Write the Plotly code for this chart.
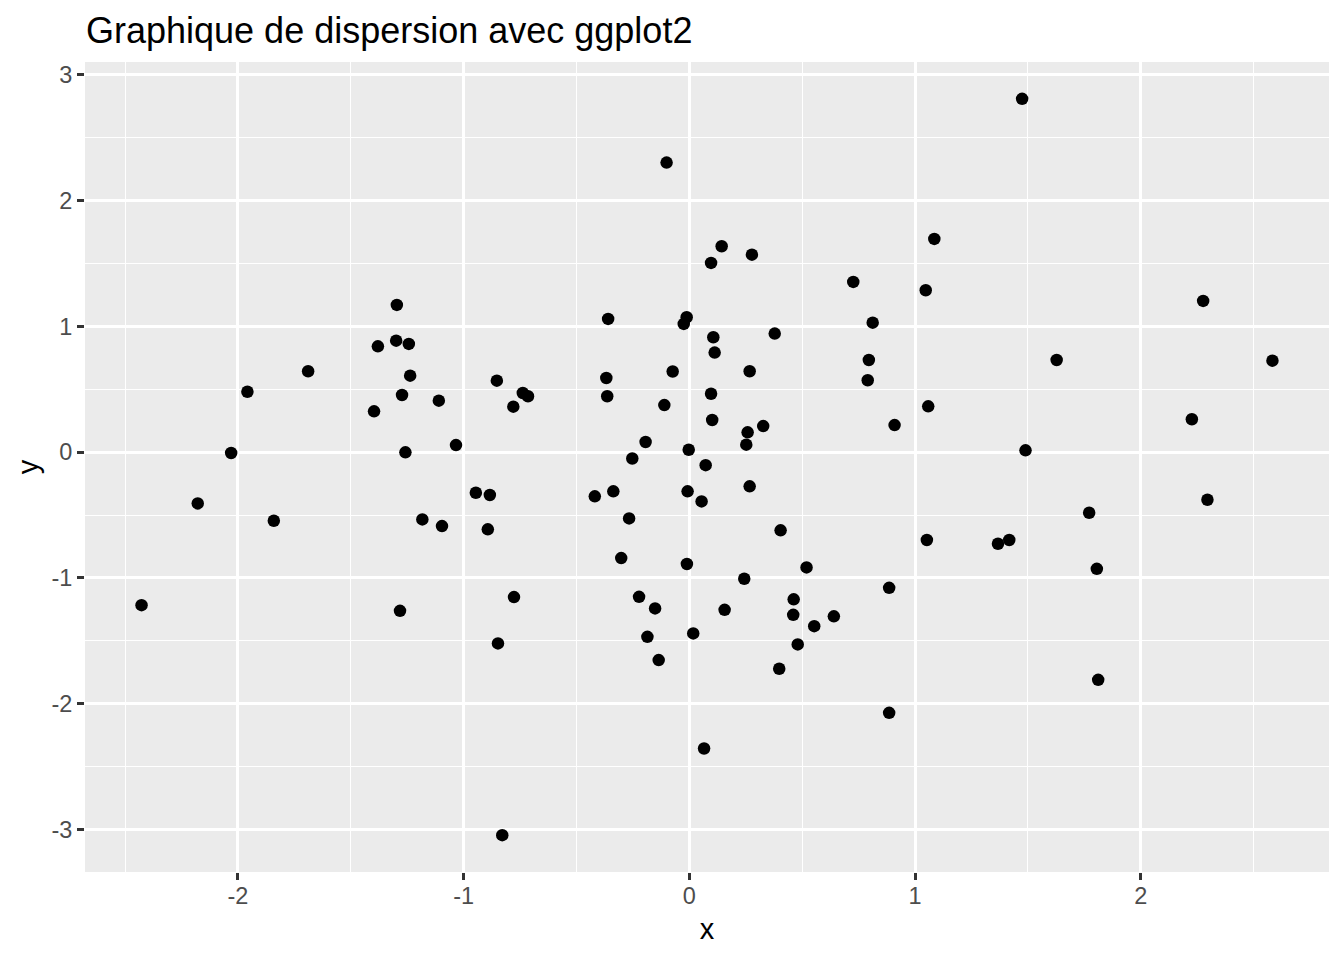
import plotly.graph_objects as go

x_vals = [-2.427, -2.178, -2.030, -1.958, -1.841, -1.689, -1.397, -1.380, -1.296, -1.299,
          -1.243, -1.273, -1.237, -1.258, -1.282, -1.183, -1.110, -1.096, -1.034, -0.946,
          -0.884, -0.893, -0.853, -0.780, -0.738, -0.715, -0.777, -0.848, -0.829, -0.419,
          -0.360, -0.368, -0.364, -0.337, -0.267, -0.302, -0.253, -0.194, -0.223, -0.152,
          -0.186, -0.136, -0.111, -0.074, -0.101, -0.025, -0.012, -0.003, -0.008, -0.011,
          0.017, 0.072, 0.054, 0.065, 0.096, 0.106, 0.112, 0.096, 0.101, 0.143,
          0.277, 0.267, 0.258, 0.252, 0.267, 0.327, 0.378, 0.404, 0.243, 0.156,
          0.398, 0.462, 0.460, 0.480, 0.519, 0.553, 0.640, 0.726, 0.795, 0.790,
          0.812, 0.909, 0.885, 0.885, 1.047, 1.085, 1.058, 1.052, 1.474, 1.489,
          1.627, 1.367, 1.417, 1.771, 1.805, 1.811, 2.226, 2.276, 2.295, 2.583]

y_vals = [-1.216, -0.407, -0.006, 0.481, -0.545, 0.644, 0.325, 0.842, 1.171, 0.887,
          0.861, 0.455, 0.609, -0.001, -1.261, -0.534, 0.410, -0.587, 0.057, -0.322,
          -0.340, -0.613, 0.569, 0.362, 0.471, 0.445, -1.152, -1.520, -3.045, -0.351,
          1.060, 0.590, 0.445, -0.311, -0.526, -0.842, -0.050, 0.081, -1.150, -1.242,
          -1.468, -1.653, 0.375, 0.642, 2.303, 1.020, 1.073, 0.020, -0.311, -0.889,
          -1.441, -0.103, -0.391, -2.356, 1.505, 0.914, 0.792, 0.465, 0.256, 1.638,
          1.571, 0.644, 0.158, 0.060, -0.271, 0.208, 0.943, -0.621, -1.006, -1.253,
          -1.722, -1.170, -1.293, -1.528, -0.916, -1.383, -1.305, 1.354, 0.733, 0.572,
          1.030, 0.216, -1.078, -2.072, 1.288, 1.696, 0.365, -0.698, 2.810, 0.015,
          0.733, -0.728, -0.698, -0.481, -0.927, -1.810, 0.262, 1.203, -0.378, 0.728]

x_tick_vals = [-2, -1, 0, 1, 2]
x_tick_text = ["-2", "-1", "0", "1", "2"]
y_tick_vals = [-3, -2, -1, 0, 1, 2, 3]
y_tick_text = ["-3", "-2", "-1", "0", "1", "2", "3"]

title_text = "Graphique de dispersion avec ggplot2"
x_label = "x"
y_label = "y"


def expanded(vals, mult=0.05):
    lo, hi = min(vals), max(vals)
    pad = (hi - lo) * mult
    return [lo - pad, hi + pad]


FONT = "Liberation Sans, Arial, Helvetica, sans-serif"

fig = go.Figure(
    go.Scatter(
        x=x_vals, y=y_vals, mode="markers",
        marker=dict(color="black", size=12.5, line=dict(width=0)),
        hoverinfo="x+y",
    )
)

axis_common = dict(
    showgrid=True, gridcolor="white", gridwidth=2.8,
    zeroline=False, showline=False,
    ticks="outside", ticklen=7, tickwidth=2.7, tickcolor="#333333",
    tickfont=dict(family=FONT, size=23.5, color="#4D4D4D"),
    minor=dict(dtick=0.5, tick0=0.5, showgrid=True, gridcolor="white",
               gridwidth=1.4, ticks=""),
)

fig.update_layout(
    width=1344, height=960,
    paper_bgcolor="white", plot_bgcolor="#EBEBEB",
    margin=dict(l=85, r=15, t=62, b=88),
    showlegend=False,
    title=dict(text=title_text, x=86 / 1344, xref="container", xanchor="left",
               y=1 - 30 / 960, yref="container", yanchor="middle",
               font=dict(family=FONT, size=36, color="black")),
    font=dict(family=FONT),
)

fig.update_xaxes(
    range=expanded(x_vals), tickmode="array", tickvals=x_tick_vals, ticktext=x_tick_text,
    ticklabelstandoff=-4,
    title=dict(text=x_label, font=dict(family=FONT, size=29, color="black"), standoff=10),
    **axis_common,
)
fig.update_yaxes(
    range=expanded(y_vals), tickmode="array", tickvals=y_tick_vals, ticktext=y_tick_text,
    title=dict(text=y_label, font=dict(family=FONT, size=29, color="black"), standoff=4),
    **axis_common,
)

fig.write_html(
    "out.html",
    config={"displayModeBar": False},
    post_script="document.body.style.margin='0px';document.body.style.overflow='hidden';",
)
